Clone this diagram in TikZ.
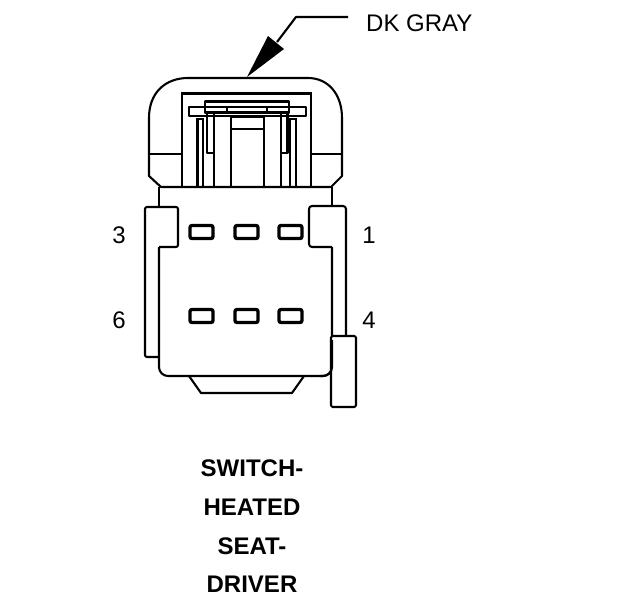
\documentclass[tikz,border=0pt]{standalone}
\usepackage{fontspec}
\setmainfont{Liberation Sans}
\tikzset{
  thinline/.style={draw=black,line width=2.1pt,line join=round},
  thickline/.style={draw=black,line width=2.8pt,line join=miter},
  pinbox/.style={draw=black,line width=3.3pt,rounded corners=2pt},
  lbl/.style={inner sep=0pt,font=\fontsize{24}{24}\selectfont,text=black},
  captext/.style={inner sep=0pt,font=\fontsize{24}{24}\selectfont\bfseries,text=black}
}
\begin{document}
\begin{tikzpicture}[x=1pt,y=-1pt]
\useasboundingbox (0,0) rectangle (624,600);
\fill[white] (0,0) rectangle (624,600);
% outer housing
\draw[thinline] (161,187) -- (149,176) -- (149,118) .. controls (149,92) and (166,78) .. (188,78)
  -- (308,78) .. controls (328,78) and (342,94) .. (342,118) -- (342,176) -- (331,187) -- cycle;
\draw[thinline] (149,154) -- (182,154) (311,154) -- (342,154);
% inner frame
\draw[thickline] (182,187) -- (182,93.5) -- (311,93.5) -- (311,187);
% cross bar and upper block
\draw[thinline,fill=white] (189,107) rectangle (306,116);
\draw[thinline,fill=white] (205,101.5) rectangle (289,113);
\draw[thinline] (205,107) -- (289,107);
\draw[thinline] (227,107) -- (227,111) (267,107) -- (267,111);
\draw[line width=3.6pt] (205,112.5) -- (289,112.5);
% left guides
\draw[thickline] (197.5,187) -- (197.5,119) -- (203,119) -- (203,187) -- (214,187) -- (214,114);
\draw[thinline] (207,114) -- (207,153) -- (213,153);
% right guides
\draw[thickline] (296,187) -- (296,119) -- (290,119) -- (290,187) -- (281,187) -- (281,114);
\draw[thinline] (287.5,114) -- (287.5,153) -- (281,153);
% centre block
\draw[thickline] (231,187) -- (231,117) -- (264,117) -- (264,187);
\draw[thinline] (231,129) -- (264,129);
% base line
\draw[thickline] (161,187) -- (331,187);
% body
\draw[thinline] (159,187) -- (159,207);
\draw[thinline] (332,187) -- (332,206);
\draw[thinline,rounded corners=2pt] (159,357) -- (145,357) -- (145,207) -- (178,207) -- (178,247) -- (159,247);
\draw[thinline,rounded corners=9pt] (159,247) -- (159,376) -- (332,376) -- (332,247);
\draw[thinline,rounded corners=3pt] (332,247) -- (309,247) -- (309,206) -- (346,206) -- (346,336);
% tab
\draw[thinline,fill=white,rounded corners=1.5pt] (331,336) rectangle (356,407);
\draw[thinline,rounded corners=9pt] (332,340) -- (332,376) -- (320,376);
% foot
\draw[thinline] (189,376) -- (201,393) -- (292,393) -- (304,376);
% pins
\foreach \ya in {232,316}{
  \draw[pinbox] (190,\ya-6.5) rectangle (213,\ya+6.5);
  \draw[pinbox] (235,\ya-6.5) rectangle (258,\ya+6.5);
  \draw[pinbox] (279,\ya-6.5) rectangle (302,\ya+6.5);
}
% callout
\node[lbl,anchor=west] (dk) at (366,23) {DK GRAY};
\coordinate (bend) at (296,17);
\coordinate (tip) at (247,77);
\draw[thinline] (348,17) -- (bend) -- (277,42);
\fill[black] (tip) -- (268,36) -- (284,49) -- cycle;
% numbers
\node[lbl] (n3) at (119,235) {3};
\node[lbl] (n1) at (369,235) {1};
\node[lbl] (n6) at (119,320) {6};
\node[lbl] (n4) at (369,320) {4};
% caption
\node[captext] (c1) at (252,468) {SWITCH-};
\node[captext] (c2) at (252,507) {HEATED};
\node[captext] (c3) at (252,546) {SEAT-};
\node[captext] (c4) at (252,584) {DRIVER};
\end{tikzpicture}
\end{document}
